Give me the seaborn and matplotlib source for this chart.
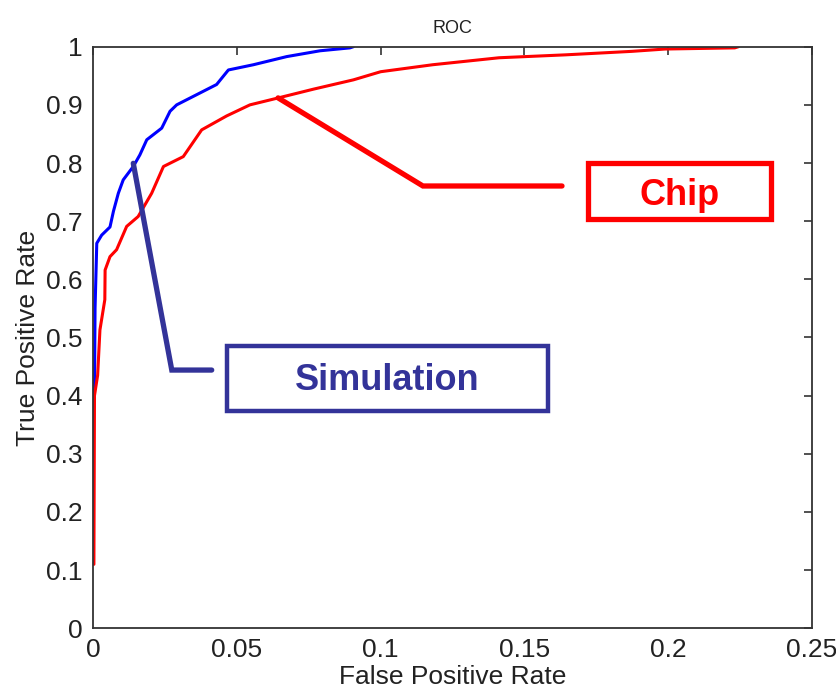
import numpy as np
import pandas as pd
import seaborn as sns
import matplotlib.pyplot as plt
from matplotlib.patches import Rectangle
from matplotlib.ticker import FuncFormatter

# ROC curve points
sim_fpr = [0.0, 0.0004, 0.0006, 0.0012, 0.0029, 0.0058, 0.0070, 0.0087, 0.0104, 0.0139,
           0.0162, 0.0186, 0.0238, 0.0267, 0.0290, 0.0429, 0.0470, 0.0557, 0.0673,
           0.0789, 0.0893, 0.0905]
sim_tpr = [0.40, 0.405, 0.55, 0.662, 0.676, 0.690, 0.717, 0.748, 0.771, 0.794,
           0.814, 0.840, 0.860, 0.889, 0.900, 0.935, 0.960, 0.969, 0.983,
           0.993, 0.998, 1.0]

chip_fpr = [0.0002, 0.0004, 0.0015, 0.0023, 0.0040, 0.0041, 0.0058, 0.0081, 0.0116, 0.0156,
            0.0203, 0.0244, 0.0313, 0.0377, 0.0464, 0.0545, 0.0644, 0.0766, 0.0905,
            0.1000, 0.1181, 0.1412, 0.1643, 0.1874, 0.1990, 0.2232, 0.2245]
chip_tpr = [0.11, 0.40, 0.435, 0.513, 0.565, 0.616, 0.639, 0.651, 0.691, 0.708,
            0.748, 0.794, 0.811, 0.857, 0.881, 0.900, 0.912, 0.927, 0.943,
            0.957, 0.969, 0.981, 0.986, 0.992, 0.996, 0.998, 1.0]

x_ticks = [0, 0.05, 0.1, 0.15, 0.2, 0.25]
y_ticks = [0, 0.1, 0.2, 0.3, 0.4, 0.5, 0.6, 0.7, 0.8, 0.9, 1.0]

sns.set_theme(style="white")
plt.rcParams["font.family"] = ["Liberation Sans", "DejaVu Sans"]

fig = plt.figure(figsize=(8.37, 6.94), dpi=100)
ax = fig.add_axes([0.1115, 0.0947, 0.8583, 0.838])

sim = pd.DataFrame({"fpr": sim_fpr, "tpr": sim_tpr})
chip = pd.DataFrame({"fpr": chip_fpr, "tpr": chip_tpr})
sns.lineplot(data=sim, x="fpr", y="tpr", sort=False, estimator=None, color="#0000ff", lw=2.2, ax=ax)
sns.lineplot(data=chip, x="fpr", y="tpr", sort=False, estimator=None, color="#ff0000", lw=2.2, ax=ax)

ax.set_xlim(0, 0.25)
ax.set_ylim(0, 1)
ax.set_xticks(x_ticks)
ax.set_yticks(y_ticks)
fmt = FuncFormatter(lambda v, p: "%g" % v)
ax.xaxis.set_major_formatter(fmt)
ax.yaxis.set_major_formatter(fmt)
ax.tick_params(direction="in", length=6, width=1.1, top=True, right=True,
               labelsize=19, colors="#222222")
ax.tick_params(axis="x", pad=7)
ax.tick_params(axis="y", pad=8)
for s in ax.spines.values():
    s.set_color("#333333")
    s.set_linewidth(1.3)

ax.set_xlabel("False Positive Rate", fontsize=19, color="#222222", labelpad=2)
ax.set_ylabel("True Positive Rate", fontsize=19, color="#222222", labelpad=4)
ax.set_title("ROC", fontsize=13, color="#222222", pad=10)

# annotation callouts
red = "#ff0000"
navy = "#333399"
ax.plot([0.0643, 0.1147, 0.1631], [0.912, 0.7605, 0.7605], color=red, lw=3.8,
        solid_joinstyle="miter", clip_on=False)
ax.add_patch(Rectangle((0.1721, 0.7046), 0.0636, 0.0954, fill=False, ec=red, lw=3.8))
ax.text(0.2039, 0.7278, "Chip", color=red, fontsize=26, fontweight="bold",
        ha="center", va="baseline")

ax.plot([0.0139, 0.0273, 0.0412], [0.7995, 0.444, 0.444], color=navy, lw=3.8,
        solid_joinstyle="miter")
ax.add_patch(Rectangle((0.0465, 0.3736), 0.1117, 0.1118, fill=False, ec=navy, lw=3.2))
ax.text(0.1023, 0.4097, "Simulation", color=navy, fontsize=26, fontweight="bold",
        ha="center", va="baseline")

fig.savefig("out.png", dpi=100)
